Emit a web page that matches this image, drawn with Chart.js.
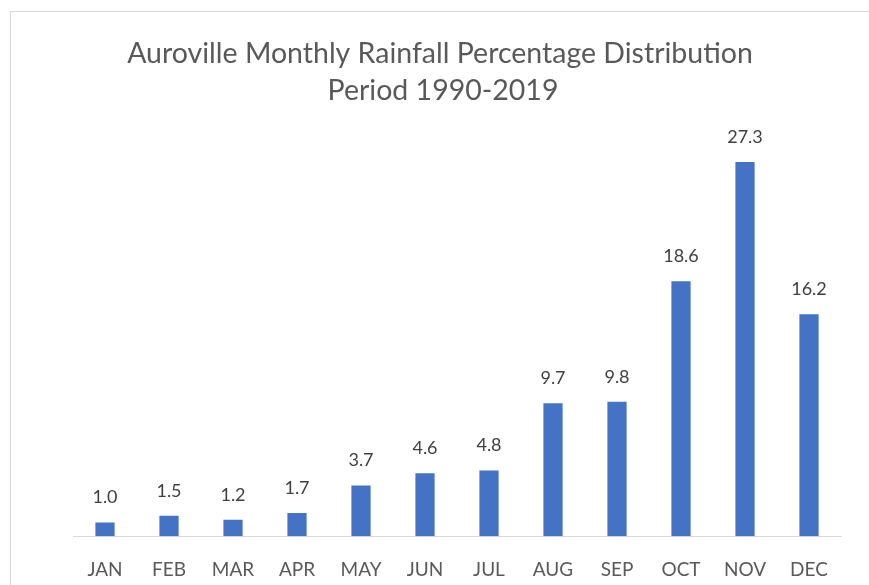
<!DOCTYPE html>
<html>
<head>
<meta charset="utf-8">
<script src="https://cdn.jsdelivr.net/npm/chart.js@4/dist/chart.umd.min.js"></script>
<style>
  html, body { margin: 0; padding: 0; background: #ffffff; overflow: hidden; }
  #wrap { width: 869px; height: 585px; position: relative; }
</style>
</head>
<body>
<div id="wrap"><canvas id="c" width="869" height="585"></canvas></div>
<script>
const months = ['JAN','FEB','MAR','APR','MAY','JUN','JUL','AUG','SEP','OCT','NOV','DEC'];
const rainfallPct = [1.0, 1.5, 1.2, 1.7, 3.7, 4.6, 4.8, 9.7, 9.8, 18.6, 27.3, 16.2];
const titleLines = ['Auroville Monthly Rainfall Percentage Distribution', 'Period 1990-2019'];

const FONT = 'Lato, "Open Sans", sans-serif';

const framePlugin = {
  id: 'frame',
  beforeDraw(chart) {
    const ctx = chart.ctx;
    ctx.save();
    ctx.fillStyle = '#ffffff';
    ctx.fillRect(0, 0, chart.width, chart.height);
    ctx.strokeStyle = '#d9d9d9';
    ctx.lineWidth = 1;
    ctx.strokeRect(10.5, 11.5, 1000, 1000);
    ctx.restore();
  }
};

const titlePlugin = {
  id: 'customTitle',
  afterDraw(chart) {
    const ctx = chart.ctx;
    ctx.save();
    ctx.font = '28.5px ' + FONT;
    ctx.fillStyle = '#595959';
    ctx.textAlign = 'center';
    ctx.textBaseline = 'alphabetic';
    ctx.fillText(titleLines[0], 440, 63);
    ctx.fillText(titleLines[1], 443, 100);
    ctx.restore();
  }
};

const valueLabels = {
  id: 'valueLabels',
  afterDatasetsDraw(chart) {
    const ctx = chart.ctx;
    const meta = chart.getDatasetMeta(0);
    const data = chart.data.datasets[0].data;
    ctx.save();
    ctx.font = '18px ' + FONT;
    ctx.fillStyle = '#404040';
    ctx.textAlign = 'center';
    ctx.textBaseline = 'alphabetic';
    meta.data.forEach((bar, i) => {
      ctx.fillText(Number(data[i]).toFixed(1), bar.x, bar.y - 19);
    });
    ctx.restore();
  }
};

new Chart(document.getElementById('c'), {
  type: 'bar',
  data: {
    labels: months,
    datasets: [{
      data: rainfallPct,
      backgroundColor: '#4472C4',
      borderWidth: 0,
      categoryPercentage: 1.0,
      barPercentage: 0.3
    }]
  },
  options: {
    responsive: false,
    animation: false,
    devicePixelRatio: 1,
    layout: { padding: { left: 73, right: 28, top: 125, bottom: -18 } },
    plugins: {
      legend: { display: false },
      tooltip: { enabled: false },
      title: { display: false }
    },
    scales: {
      x: {
        grid: { display: false, drawTicks: false },
        border: { display: true, color: '#d9d9d9', width: 1 },
        ticks: {
          color: '#595959',
          font: { family: FONT, size: 19 },
          padding: 22,
          maxRotation: 0,
          autoSkip: false
        }
      },
      y: {
        display: false,
        min: 0,
        max: 30
      }
    }
  },
  plugins: [framePlugin, valueLabels, titlePlugin]
});
</script>
</body>
</html>
